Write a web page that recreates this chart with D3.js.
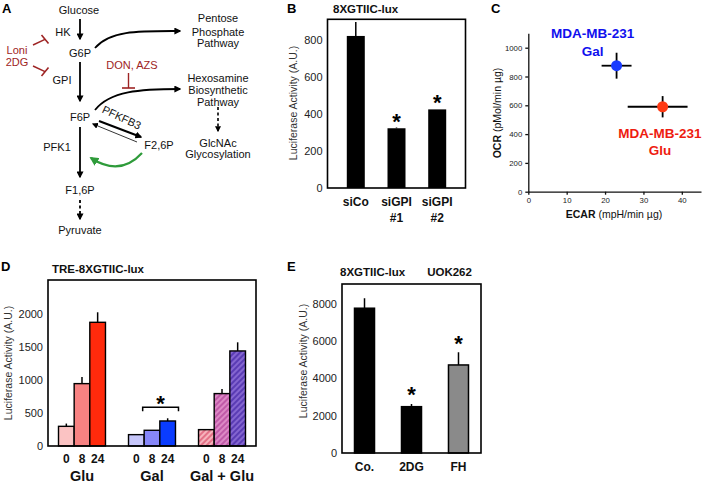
<!DOCTYPE html>
<html><head><meta charset="utf-8">
<script src="https://cdn.jsdelivr.net/npm/d3@7"></script>
<style>
body{margin:0;background:#fff}
svg{display:block}
text{font-family:"Liberation Sans",Arial,Helvetica,sans-serif}
</style>
</head><body>
<svg id="c" width="709" height="487"></svg>
<script>
// ---------- DATA ----------
// Panel B
const bCategories = ["siCo", "siGPI #1", "siGPI #2"];
const bValues = [822, 323, 425];
const bErrors = [75, 4, 0];
const bSignificant = [false, true, true];
const bTicks = [0, 200, 400, 600, 800];

// Panel C
const cSeries = ["Gal", "Glu"];
const cECAR = [23, 35];
const cOCR = [875, 590];
const cECARErrLow = [3.9, 9.1];
const cECARErrHigh = [3.9, 6.5];
const cOCRErr = [90, 74];
const cXTicks = [0, 10, 20, 30, 40];
const cYTicks = [0, 200, 400, 600, 800, 1000];

// Panel D
const dGroups = ["Glu", "Gal", "Gal + Glu"];
const dTimes = ["0", "8", "24"];
const dGlu = [298, 945, 1874];
const dGal = [172, 238, 379];
const dGalGlu = [248, 794, 1440];
const dGluErr = [42, 100, 152];
const dGalErr = [0, 0, 41];
const dGalGluErr = [0, 70, 131];
const dTicks = [0, 500, 1000, 1500, 2000];

// Panel E
const eCategories = ["Co.", "2DG", "FH"];
const eValues = [7770, 2486, 4725];
const eErrors = [536, 144, 682];
const eSignificant = [false, true, true];
const eTicks = [0, 2000, 4000, 6000, 8000];

// ---------- SETUP ----------
const svg = d3.select("#c");
const defs = svg.append("defs");
const RED_DARK = "#9e2424";
const FONT = '"Liberation Sans",Arial,sans-serif';
const fmt = d3.format("d");

function marker(id, color, size) {
  defs.append("marker").attr("id", id)
    .attr("viewBox", "0 0 10 10").attr("refX", 8).attr("refY", 5)
    .attr("markerWidth", size).attr("markerHeight", size)
    .attr("markerUnits", "userSpaceOnUse").attr("orient", "auto")
    .append("path").attr("d", "M0,0 L10,5 L0,10 z").attr("fill", color);
}
marker("ah", "#000", 7);
marker("ahs", "#000", 6);
marker("ahg", "#2e9b3a", 9);

function hatch(id, bg, stripe) {
  const p = defs.append("pattern").attr("id", id)
    .attr("patternUnits", "userSpaceOnUse").attr("width", 4).attr("height", 4)
    .attr("patternTransform", "rotate(45)");
  p.append("rect").attr("width", 4).attr("height", 4).attr("fill", bg);
  p.append("line").attr("x1", 1).attr("y1", 0).attr("x2", 1).attr("y2", 4)
    .attr("stroke", stripe).attr("stroke-width", 1.6);
}
hatch("h0", "#f6b3bc", "#e0607a");
hatch("h8", "#c05aa8", "#e494cc");
hatch("h24", "#5a3cb4", "#8f6fd8");

function txt(g, x, y, s, opts = {}) {
  const t = g.append("text").attr("x", x).attr("y", y).text(s)
    .attr("font-size", opts.size || 11)
    .attr("text-anchor", opts.anchor || "middle")
    .attr("fill", opts.fill || "#111");
  if (opts.bold) t.attr("font-weight", "bold");
  if (opts.transform) t.attr("transform", opts.transform);
  return t;
}
function star(g, x, y) { return txt(g, x, y, "*", {size: 22, bold: true, fill: "#000"}); }
function panelLetter(x, y, s) { txt(svg, x, y, s, {size: 13, bold: true, anchor: "start", fill: "#000"}); }

// ---------- PANEL A (schematic) ----------
const gA = svg.append("g");
panelLetter(2, 13, "A");
[["Glucose",79,14],["HK",63,36],["G6P",80,57],["GPI",62,84],["F6P",80,121],
 ["PFK1",57,151],["F1,6P",80,194],["Pyruvate",80,234],["F2,6P",159,149],
 ["Pentose",218,22],["Phosphate",218,35.5],["Pathway",218,47],
 ["Hexosamine",218,82],["Biosynthetic",218,94],["Pathway",218,106],
 ["GlcNAc",218,146.5],["Glycosylation",218,158]].forEach(d => txt(gA, d[1], d[2], d[0]));
txt(gA, 17, 54, "Loni", {fill: RED_DARK});
txt(gA, 17, 66, "2DG", {fill: RED_DARK});
txt(gA, 132, 69, "DON, AZS", {fill: RED_DARK});
txt(gA, 0, 0, "PFKFB3", {transform: "translate(120,121) rotate(25)"});

function ln(d, w, m, dash, color) {
  const p = gA.append("path").attr("d", d).attr("fill", "none")
    .attr("stroke", color || "#000").attr("stroke-width", w);
  if (m) p.attr("marker-end", `url(#${m})`);
  if (dash) p.attr("stroke-dasharray", dash);
  return p;
}
ln("M80,19 L80,39", 1.8, "ah");
ln("M80,62 L80,101", 1.8, "ah");
ln("M80,127 L80,177", 1.8, "ah");
ln("M80,200 L80,219", 1.8, "ah", "3,2.5");
ln("M218,107 L218,131", 1.6, "ahs", "3,2.5");
ln("M95,48 C110,30 140,31 180,31", 1.8, "ah");
ln("M95,110 C110,91 140,89 180,89", 1.8, "ah");
ln("M99,121 L141,137", 2.2, "ah");
ln("M137,142 L93,124", 0.8, "ahs");
ln("M142,153 Q120,177 91,158", 2.2, "ahg", null, "#2e9b3a");
// inhibition
ln("M33,45 L45,39.3", 1.4, null, null, RED_DARK);
ln("M41.5,35 L48.5,43.5", 1.6, null, null, RED_DARK);
ln("M33,66 L45,71.7", 1.4, null, null, RED_DARK);
ln("M41.5,76 L48.5,67.5", 1.6, null, null, RED_DARK);
ln("M128.5,73 L128.5,88", 1.4, null, null, RED_DARK);
ln("M122,88 L135,88", 1.6, null, null, RED_DARK);

// ---------- helpers for axes ----------
function yAxisLabels(g, scale, ticks, x, size) {
  const ax = g.append("g").attr("transform", `translate(${x},0)`)
    .call(d3.axisLeft(scale).tickValues(ticks).tickFormat(fmt).tickSize(0).tickPadding(5));
  ax.select(".domain").remove();
  ax.selectAll("text").attr("font-size", size).attr("fill", "#222").attr("font-family", FONT);
  return ax;
}
function yTitle(g, x, y, s, size) {
  txt(g, 0, 0, s, {size: size, fill: "#333", transform: `translate(${x},${y}) rotate(-90)`}).attr("dy", "0.35em");
}
function box(g, xs, ys) {
  const [x0, x1] = xs.range(), [y0, y1] = ys.range();
  g.append("rect").attr("x", x0).attr("y", y1).attr("width", x1 - x0).attr("height", y0 - y1)
    .attr("fill", "none").attr("stroke", "#000").attr("stroke-width", 1.6);
}

// ---------- PANEL B ----------
const gB = svg.append("g");
panelLetter(287, 13, "B");
txt(gB, 333, 12.5, "8XGTIIC-lux", {bold: true, anchor: "start", size: 11.5});
const bX = d3.scalePoint().domain(bCategories).range([327.5, 465.5]).padding(0.695);
const bY = d3.scaleLinear().domain([0, 912]).range([188, 19.3]);
yAxisLabels(gB, bY, bTicks, 327.5, 11);
yTitle(gB, 293, 103, "Luciferase Activity (A.U.)", 10.5);
bCategories.forEach((c, i) => {
  gB.append("line").attr("x1", bX(c)).attr("x2", bX(c))
    .attr("y1", bY(bValues[i])).attr("y2", bY(bValues[i] + bErrors[i]))
    .attr("stroke", "#000").attr("stroke-width", 1.5);
  gB.append("rect").attr("x", bX(c) - 9).attr("width", 18)
    .attr("y", bY(bValues[i])).attr("height", bY(0) - bY(bValues[i])).attr("fill", "#000");
  if (bSignificant[i]) star(gB, bX(c), bY(bValues[i] + bErrors[i]) + 1);
  const parts = c.split(" ");
  parts.forEach((p, k) => txt(gB, bX(c), 206 + k * 15.5, p, {size: 12, bold: true}));
});
box(gB, bX, bY);

// ---------- PANEL C ----------
const gC = svg.append("g");
panelLetter(491, 12.5, "C");
const cX = d3.scaleLinear().domain([0, 45]).range([528.3, 701]);
const cY = d3.scaleLinear().domain([0, 1100]).range([191.7, 33.3]);
const cxa = gC.append("g").attr("transform", `translate(0,${cY(0)})`)
  .call(d3.axisBottom(cX).tickValues(cXTicks).tickFormat(fmt).tickSize(3).tickSizeOuter(0).tickPadding(3));
const cya = gC.append("g").attr("transform", `translate(${cX(0)},0)`)
  .call(d3.axisLeft(cY).tickValues(cYTicks).tickFormat(fmt).tickSize(3).tickSizeOuter(0).tickPadding(3));
[cxa, cya].forEach(a => {
  a.selectAll("text").attr("font-size", 7.8).attr("fill", "#222").attr("font-family", FONT);
  a.selectAll("path,line").attr("stroke", "#111").attr("stroke-width", 1.3);
});
const cyt = gC.append("text").attr("transform", `translate(497,113) rotate(-90)`).attr("text-anchor", "middle")
  .attr("dy", "0.35em").attr("font-size", 10.5).attr("fill", "#111");
cyt.append("tspan").attr("font-weight", "bold").text("OCR");
cyt.append("tspan").text(" (pMol/min \u00b5g)");
const cxt = gC.append("text").attr("x", 614).attr("y", 218).attr("text-anchor", "middle")
  .attr("font-size", 10.5).attr("fill", "#111");
cxt.append("tspan").attr("font-weight", "bold").text("ECAR");
cxt.append("tspan").text(" (mpH/min \u00b5g)");
const cColors = ["#1a3cff", "#ff3a14"];
const cLabelColors = ["#1010ee", "#ee1c10"];
cSeries.forEach((s, i) => {
  gC.append("line").attr("x1", cX(cECAR[i] - cECARErrLow[i])).attr("x2", cX(cECAR[i] + cECARErrHigh[i]))
    .attr("y1", cY(cOCR[i])).attr("y2", cY(cOCR[i])).attr("stroke", "#000").attr("stroke-width", 1.8);
  gC.append("line").attr("x1", cX(cECAR[i])).attr("x2", cX(cECAR[i]))
    .attr("y1", cY(cOCR[i] - cOCRErr[i])).attr("y2", cY(cOCR[i] + cOCRErr[i])).attr("stroke", "#000").attr("stroke-width", 1.8);
  gC.append("circle").attr("cx", cX(cECAR[i])).attr("cy", cY(cOCR[i])).attr("r", 5.5).attr("fill", cColors[i]);
});
txt(gC, 592.7, 38, "MDA-MB-231", {size: 13.5, bold: true, fill: cLabelColors[0]});
txt(gC, 592.7, 56, cSeries[0], {size: 13.5, bold: true, fill: cLabelColors[0]});
txt(gC, 660, 138, "MDA-MB-231", {size: 13.5, bold: true, fill: cLabelColors[1]});
txt(gC, 660, 154.5, cSeries[1], {size: 13.5, bold: true, fill: cLabelColors[1]});

// ---------- PANEL D ----------
const gD = svg.append("g");
panelLetter(1, 271, "D");
txt(gD, 52, 273, "TRE-8XGTIIC-lux", {bold: true, anchor: "start", size: 11.5});
const dX = d3.scaleBand().domain(dGroups).range([48, 256]).paddingInner(0.329).paddingOuter(0.15);
const dT = d3.scaleBand().domain(dTimes).range([0, dX.bandwidth()]);
const dY = d3.scaleLinear().domain([0, 2515]).range([446, 280]);
yAxisLabels(gD, dY, dTicks, 48, 11);
yTitle(gD, 8, 363, "Luciferase Activity (A.U.)", 10.5);
const dVals = [dGlu, dGal, dGalGlu];
const dErrs = [dGluErr, dGalErr, dGalGluErr];
const dFills = [["#fbc3c3", "#f78282", "#ff2a0c"], ["#c6c6fa", "#8686f8", "#0a3cff"], ["url(#h0)", "url(#h8)", "url(#h24)"]];
dGroups.forEach((g, gi) => {
  dTimes.forEach((t, ti) => {
    const x = dX(g) + dT(t), w = dT.bandwidth(), v = dVals[gi][ti], e = dErrs[gi][ti];
    if (e > 0) gD.append("line").attr("x1", x + w / 2).attr("x2", x + w / 2)
      .attr("y1", dY(v)).attr("y2", dY(v + e)).attr("stroke", "#000").attr("stroke-width", 1.5);
    gD.append("rect").attr("x", x).attr("width", w).attr("y", dY(v)).attr("height", dY(0) - dY(v))
      .attr("fill", dFills[gi][ti]).attr("stroke", "#000").attr("stroke-width", 1.4);
    txt(gD, x + w / 2, 462.5, t, {size: 12, bold: true});
  });
  txt(gD, dX(g) + dX.bandwidth() / 2, 481, g, {size: 14.5, bold: true});
});
// significance bracket over Gal
{
  const gx = dX("Gal");
  const xl = gx + dT("8") - 1.5, xr = gx + dX.bandwidth() + 3;
  const yb = dY(Math.max(...dGal.map((v, i) => v + dGalErr[i]))) - 11;
  gD.append("path").attr("d", `M${xl},${yb + 4} L${xl},${yb} L${xr},${yb} L${xr},${yb + 4}`)
    .attr("fill", "none").attr("stroke", "#000").attr("stroke-width", 1.5);
  star(gD, (xl + xr) / 2, yb + 4);
}
box(gD, d3.scaleLinear().range([48, 256]), dY);

// ---------- PANEL E ----------
const gE = svg.append("g");
panelLetter(287, 271, "E");
txt(gE, 340, 275.5, "8XGTIIC-lux", {bold: true, anchor: "start", size: 11.5});
txt(gE, 449.5, 275.5, "UOK262", {bold: true, size: 11.5});
const eX = d3.scaleBand().domain(eCategories).range([342, 481]).paddingInner(0.574).paddingOuter(0.266);
const eY = d3.scaleLinear().domain([0, 9070]).range([453, 284]);
yAxisLabels(gE, eY, eTicks, 342, 11);
yTitle(gE, 303, 361, "Luciferase Activity (A.U.)", 10.5);
const eFills = ["#000", "#000", "#8a8a8a"];
eCategories.forEach((c, i) => {
  const cx = eX(c) + eX.bandwidth() / 2;
  gE.append("line").attr("x1", cx).attr("x2", cx)
    .attr("y1", eY(eValues[i])).attr("y2", eY(eValues[i] + eErrors[i])).attr("stroke", "#000").attr("stroke-width", 1.5);
  gE.append("rect").attr("x", eX(c)).attr("width", eX.bandwidth()).attr("y", eY(eValues[i]))
    .attr("height", eY(0) - eY(eValues[i])).attr("fill", eFills[i]).attr("stroke", "#000").attr("stroke-width", 1.5);
  if (eSignificant[i]) star(gE, cx, eY(eValues[i] + eErrors[i]) - 1.5);
  txt(gE, cx, 471, c, {size: 12, bold: true});
});
box(gE, d3.scaleLinear().range([342, 481]), eY);
</script>
</body></html>
